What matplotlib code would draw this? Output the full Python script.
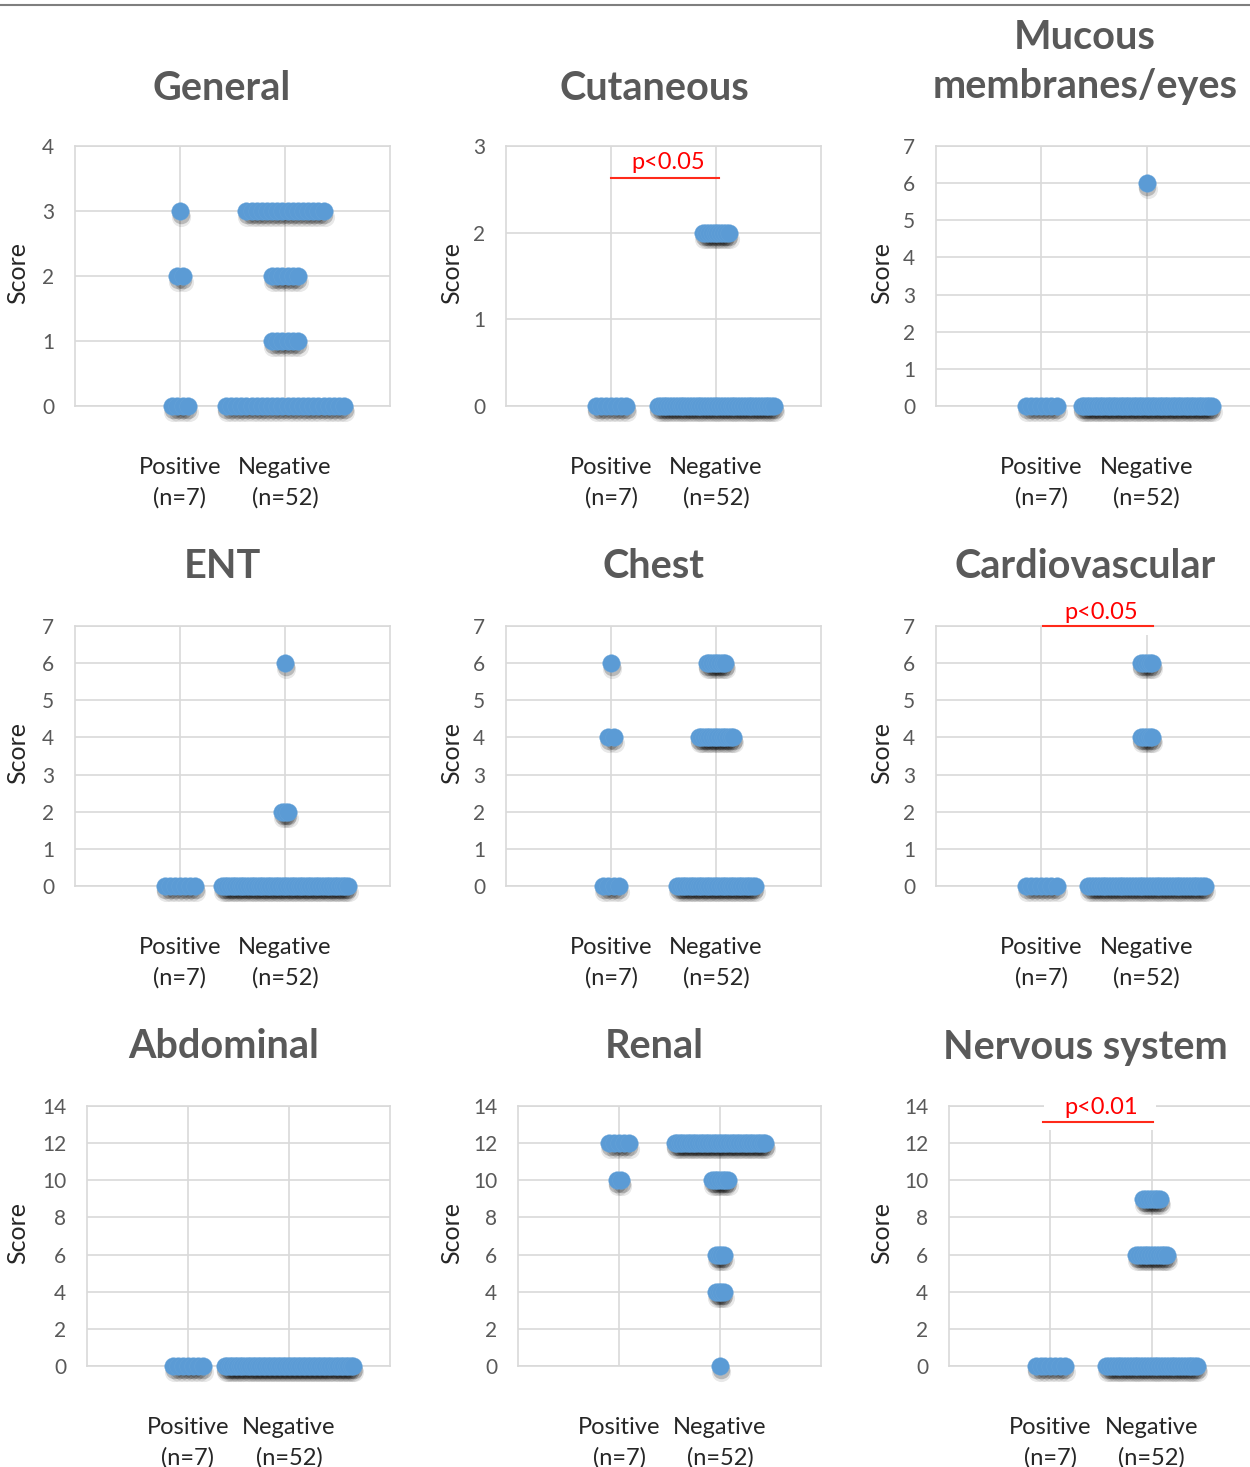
import matplotlib
matplotlib.use('Agg')
import matplotlib.pyplot as plt
import matplotlib.transforms as mtransforms
from matplotlib.patches import Rectangle
from matplotlib.lines import Line2D

plt.rcParams['font.family'] = ['Lato', 'DejaVu Sans']

# ---------------- data ----------------
panel_titles = ["General", "Cutaneous", "Mucous\nmembranes/eyes",
                "ENT", "Chest", "Cardiovascular",
                "Abdominal", "Renal", "Nervous system"]
group_labels = ["Positive\n(n=7)", "Negative\n(n=52)"]
y_max = [4, 3, 7, 7, 7, 7, 14, 14, 14]
y_step = [1, 1, 1, 1, 1, 1, 2, 2, 2]

# score -> number of patients with that score
general_pos = {0: 4, 2: 2, 3: 1}
general_neg = {0: 24, 1: 6, 2: 6, 3: 16}
cutaneous_pos = {0: 7}
cutaneous_neg = {0: 42, 2: 10}
mucous_pos = {0: 7}
mucous_neg = {0: 51, 6: 1}
ent_pos = {0: 7}
ent_neg = {0: 48, 2: 3, 6: 1}
chest_pos = {0: 4, 4: 2, 6: 1}
chest_neg = {0: 30, 4: 14, 6: 8}
cardio_pos = {0: 7}
cardio_neg = {0: 42, 4: 5, 6: 5}
abdominal_pos = {0: 7}
abdominal_neg = {0: 52}
renal_pos = {10: 2, 12: 5}
renal_neg = {0: 1, 4: 4, 6: 4, 10: 7, 12: 36}
nervous_pos = {0: 7}
nervous_neg = {0: 33, 6: 12, 9: 7}

positive_groups = [general_pos, cutaneous_pos, mucous_pos, ent_pos, chest_pos,
                   cardio_pos, abdominal_pos, renal_pos, nervous_pos]
negative_groups = [general_neg, cutaneous_neg, mucous_neg, ent_neg, chest_neg,
                   cardio_neg, abdominal_neg, renal_neg, nervous_neg]

p_labels = {1: "p<0.05", 5: "p<0.05", 8: "p<0.01"}

# ---------------- style / layout ----------------
W, H = 1250, 1467
fig = plt.figure(figsize=(W / 100, H / 100), dpi=100)

row_tb = [(146, 406), (626, 886), (1106, 1366)]
col_lr = [[(75, 390), (506, 821), (936, 1252)],
          [(75, 390), (506, 821), (936, 1252)],
          [(87, 390), (518, 821), (949, 1253)]]
title_xy = [(222, 88), (654, 88), (1085, 62),
            (222, 567), (654, 567), (1085, 567),
            (224, 1047), (654, 1047), (1085, 1047)]
score_x = [18, 452, 882]

pos_step = 0.048
neg_step = [0.049, 0.027, 0.0247, 0.0255, 0.0253, 0.027, 0.0249, 0.0257, 0.028]

ann_style = {
    1: dict(x0=1.0, x1=2.03, yl=2.634, yt=2.81, box=None),
    5: dict(x0=1.016, x1=2.06, yl=7.0, yt=7.36, box=(1.016, 6.76, 1.05, 1.2)),
    8: dict(x0=0.93, x1=2.01, yl=13.14, yt=13.9, box=(0.94, 12.7, 1.1, 2.2)),
}

GRID = '#D9D9D9'
TICK = '#595959'
DARK = '#262626'
BLUE = '#5B9BD5'
dot_d_pt = 17.5 * 72 / 100
dot_s = dot_d_pt ** 2


def cluster(cat, counts, step):
    xs, ys = [], []
    for score, n in counts.items():
        for i in range(n):
            xs.append(cat + (i - (n - 1) / 2) * step)
            ys.append(score)
    return xs, ys


for k in range(9):
    r, c = divmod(k, 3)
    t, b = row_tb[r]
    l, rr = col_lr[r][c]
    ax = fig.add_axes([l / W, 1 - b / H, (rr - l) / W, (b - t) / H])
    ax.set_xlim(0, 3)
    ax.set_ylim(0, y_max[k])
    ax.set_yticks(range(0, y_max[k] + 1, y_step[k]))
    ax.set_xticks([1, 2])
    ax.set_xticklabels(group_labels, fontsize=17, color=DARK, linespacing=1.5)
    ax.tick_params(axis='both', length=0)
    ax.tick_params(axis='y', labelsize=15, labelcolor=TICK, pad=15)
    ax.tick_params(axis='x', pad=37)
    ax.grid(True, color=GRID, lw=1.2)
    ax.set_axisbelow(True)
    for sp in ax.spines.values():
        sp.set_color(GRID)
        sp.set_linewidth(1.2)

    xs_p, ys_p = cluster(1, positive_groups[k], pos_step)
    xs_n, ys_n = cluster(2, negative_groups[k], neg_step[k])
    xs = xs_p + xs_n
    ys = ys_p + ys_n

    sh1 = mtransforms.offset_copy(ax.transData, fig=fig, x=1, y=-6, units='dots')
    sh2 = mtransforms.offset_copy(ax.transData, fig=fig, x=0.5, y=-4, units='dots')
    ax.scatter(xs, ys, s=dot_s * 1.2, color='black', alpha=0.09, linewidths=0,
               transform=sh1, clip_on=False, zorder=4)
    ax.scatter(xs, ys, s=dot_s, color='black', alpha=0.2, linewidths=0,
               transform=sh2, clip_on=False, zorder=4)
    ax.scatter(xs, ys, s=dot_s, color=BLUE, edgecolors='#66A3D9', linewidths=0.3,
               clip_on=False, zorder=5)

    if k in p_labels:
        st = ann_style[k]
        if st['box'] is not None:
            bx, by, bw, bh = st['box']
            ax.add_patch(Rectangle((bx, by), bw, bh, facecolor='white',
                                   edgecolor='none', clip_on=False, zorder=3))
        ax.plot([st['x0'], st['x1']], [st['yl'], st['yl']], color='#FF2A1A',
                lw=1.5, clip_on=False, zorder=6)
        ax.text((st['x0'] + st['x1']) / 2 + 0.03, st['yt'], p_labels[k],
                color='#FF0000', fontsize=17, ha='center', va='center',
                zorder=7, clip_on=False)

    tx, ty = title_xy[k]
    fig.text(tx / W, 1 - ty / H, panel_titles[k], fontsize=28.5, fontweight='bold',
             color=TICK, ha='center', va='center', linespacing=1.42)
    fig.text(score_x[c] / W, 1 - ((t + b) / 2 - 3) / H, "Score", fontsize=18,
             color=DARK, rotation=90, ha='center', va='center')

fig.add_artist(Line2D([0, 1], [1 - 5 / H, 1 - 5 / H], transform=fig.transFigure,
                      color='#7F7F7F', lw=1.5))

fig.savefig('out.png', dpi=100)
